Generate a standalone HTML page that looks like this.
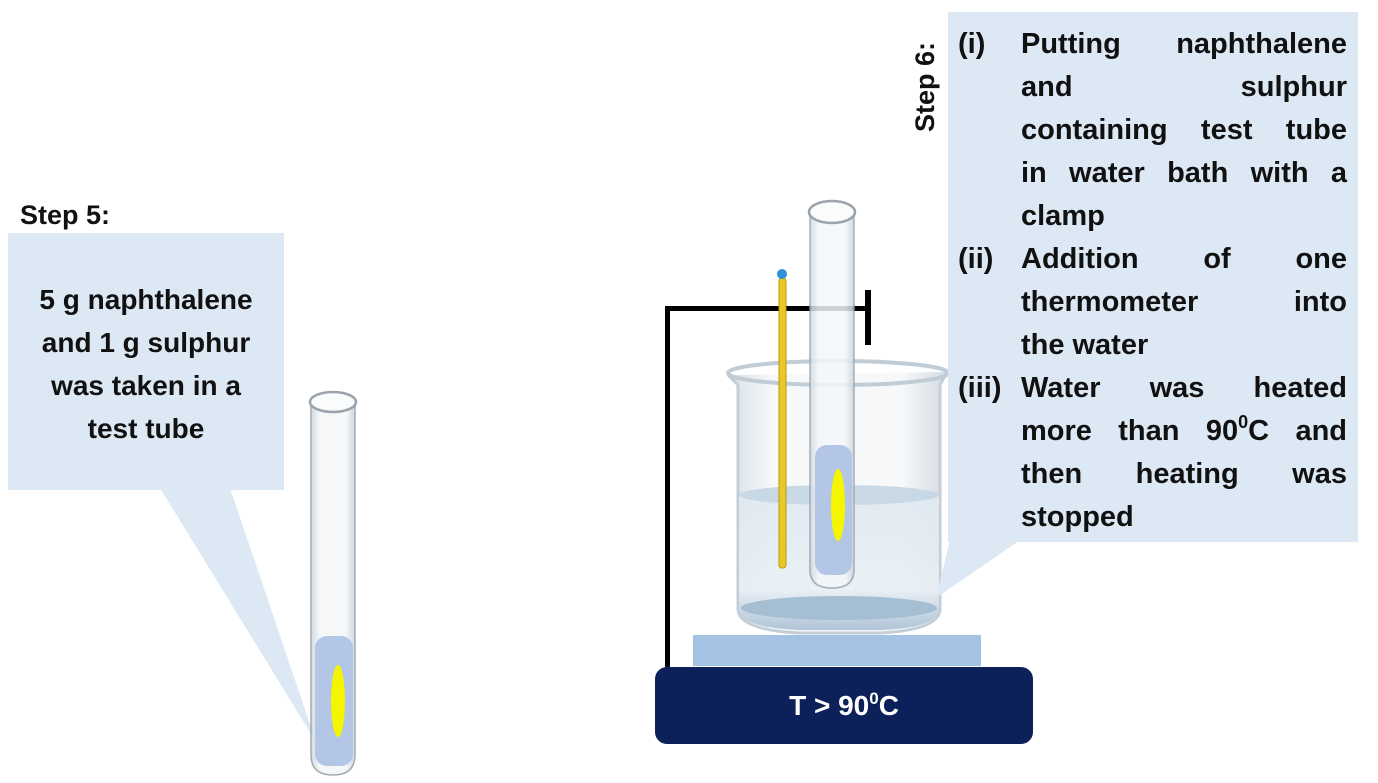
<!DOCTYPE html>
<html><head><meta charset="utf-8"><style>
html,body{margin:0;padding:0;background:#fff;}
svg{display:block;}
text{font-family:"Liberation Sans",sans-serif;font-weight:bold;fill:#111;}
</style></head><body>
<svg id="s" width="1378" height="783" viewBox="0 0 1378 783" xmlns="http://www.w3.org/2000/svg">
<defs>
<linearGradient id="glass" x1="0" x2="1"><stop offset="0" stop-color="#cfd8df"/><stop offset="0.2" stop-color="#f4f7f9"/><stop offset="0.8" stop-color="#f4f7f9"/><stop offset="1" stop-color="#c8d2da"/></linearGradient>
<linearGradient id="water" x1="0" y1="0" x2="0" y2="1"><stop offset="0" stop-color="#dfe9f1"/><stop offset="0.7" stop-color="#e8eff5"/><stop offset="1" stop-color="#a9c0d4"/></linearGradient>
</defs>
<text x="20" y="224" font-size="27">Step 5:</text>
<g>
<polygon points="160,488 230,488 316,742" fill="#dce8f4"/>
<rect x="8" y="233" width="276" height="257" fill="#dce8f4"/>
<text x="146" y="309" font-size="28" text-anchor="middle">5 g naphthalene</text>
<text x="146" y="352" font-size="28" text-anchor="middle">and 1 g sulphur</text>
<text x="146" y="395" font-size="28" text-anchor="middle">was taken in a</text>
<text x="146" y="438" font-size="28" text-anchor="middle">test tube</text>
</g>
<g>
<path d="M311,402 L311,755 Q311,775 333,775 Q355,775 355,755 L355,402" fill="url(#glass)" stroke="#9aa3ab" stroke-width="1.5" opacity="0.9"/>
<rect x="315" y="636" width="38" height="130" rx="12" fill="#b4c6e6"/>
<ellipse cx="338" cy="701" rx="7" ry="36" fill="#f5f500"/>
<ellipse cx="333" cy="402" rx="23" ry="10" fill="#fafbfc" stroke="#9aa3ab" stroke-width="2.5"/>
</g>
<g>
<rect x="665" y="306" width="5" height="362" fill="#000"/>
<rect x="665" y="306" width="205" height="5" fill="#000"/>
<rect x="865" y="290" width="6" height="55" fill="#000"/>
</g>
<rect x="693" y="635" width="288" height="31" fill="#a4c2e3"/>
<rect x="655" y="667" width="378" height="77" rx="12" fill="#0c2059"/>
<text x="844" y="715" font-size="28" text-anchor="middle" style="fill:#fff">T &gt; 90<tspan font-size="17" dy="-11">0</tspan><tspan dy="11">C</tspan></text>
<g>
<path d="M728,375 L738,385 L738,610 Q740,630 800,633 L880,633 Q938,630 940,610 L940,385 L947,372" fill="url(#glass)" stroke="#b6c2cc" stroke-width="3" opacity="0.8"/>
<path d="M739,495 L939,495 L939,610 Q936,628 880,630 L800,630 Q742,628 739,610 Z" fill="url(#water)" opacity="0.9"/>
<ellipse cx="839" cy="495" rx="100" ry="10" fill="#c9d8e5"/>
<ellipse cx="839" cy="608" rx="98" ry="12" fill="#a6bed2"/>
<ellipse cx="838" cy="373" rx="110" ry="12" fill="none" stroke="#c0ccd6" stroke-width="4"/>
</g>
<g>
<rect x="779" y="278" width="7" height="290" rx="3" fill="#e8c928" stroke="#b99a10" stroke-width="1"/>
<circle cx="782" cy="274" r="5" fill="#2f8fd8"/>
</g>
<g>
<path d="M810,212 L810,570 Q810,588 832,588 Q854,588 854,570 L854,212" fill="url(#glass)" stroke="#9aa3ab" stroke-width="1.5" opacity="0.85"/>
<rect x="815" y="445" width="37" height="130" rx="12" fill="#b4c6e6"/>
<ellipse cx="838" cy="505" rx="7" ry="36" fill="#f5f500"/>
<ellipse cx="832" cy="212" rx="23" ry="11" fill="#fafbfc" stroke="#9aa3ab" stroke-width="2.5"/>
</g>
<text transform="translate(934,132) rotate(-90)" font-size="27">Step 6:</text>
<g id="c6">
<polygon points="950,540 1020,540 936,598" fill="#dce8f4"/>
<rect x="948" y="12" width="410" height="530" fill="#dce8f4"/>
<text x="958" y="53" font-size="29">(i)</text>
<text x="958" y="268" font-size="29">(ii)</text>
<text x="958" y="397" font-size="29">(iii)</text>
</g>
</svg>
<script>
const lines=[
["Putting naphthalene",1],["and sulphur",1],["containing test tube",1],["in water bath with a",1],["clamp",0],
["Addition of one",1],["thermometer into",1],["the water",0],
["Water was heated",1],["more than 90|0|C and",1],["then heating was",1],["stopped",0]];
const g=document.getElementById('c6');const NS='http://www.w3.org/2000/svg';
const L=1021,R=1347;
lines.forEach((ln,i)=>{
 const y=53+i*43;
 const words=ln[0].split(' ');
 const els=words.map(w=>{const t=document.createElementNS(NS,'text');t.setAttribute('y',y);t.setAttribute('font-size','29');
  if(w.includes('|')){const p=w.split('|');t.textContent=p[0];const s1=document.createElementNS(NS,'tspan');s1.setAttribute('font-size','18');s1.setAttribute('dy','-12');s1.textContent=p[1];const s2=document.createElementNS(NS,'tspan');s2.setAttribute('dy','12');s2.textContent=p[2];t.appendChild(s1);t.appendChild(s2);}
  else t.textContent=w;
  
  
  g.appendChild(t);return t;});
 const ws=els.map(e=>e.getComputedTextLength());
 const tot=ws.reduce((a,b)=>a+b,0);
 const gap=(ln[1]&&els.length>1)?(R-L-tot)/(els.length-1):8;
 let x=L;els.forEach((e,k)=>{e.setAttribute('x',x);x+=ws[k]+gap;});
});
</script>
</body></html>
